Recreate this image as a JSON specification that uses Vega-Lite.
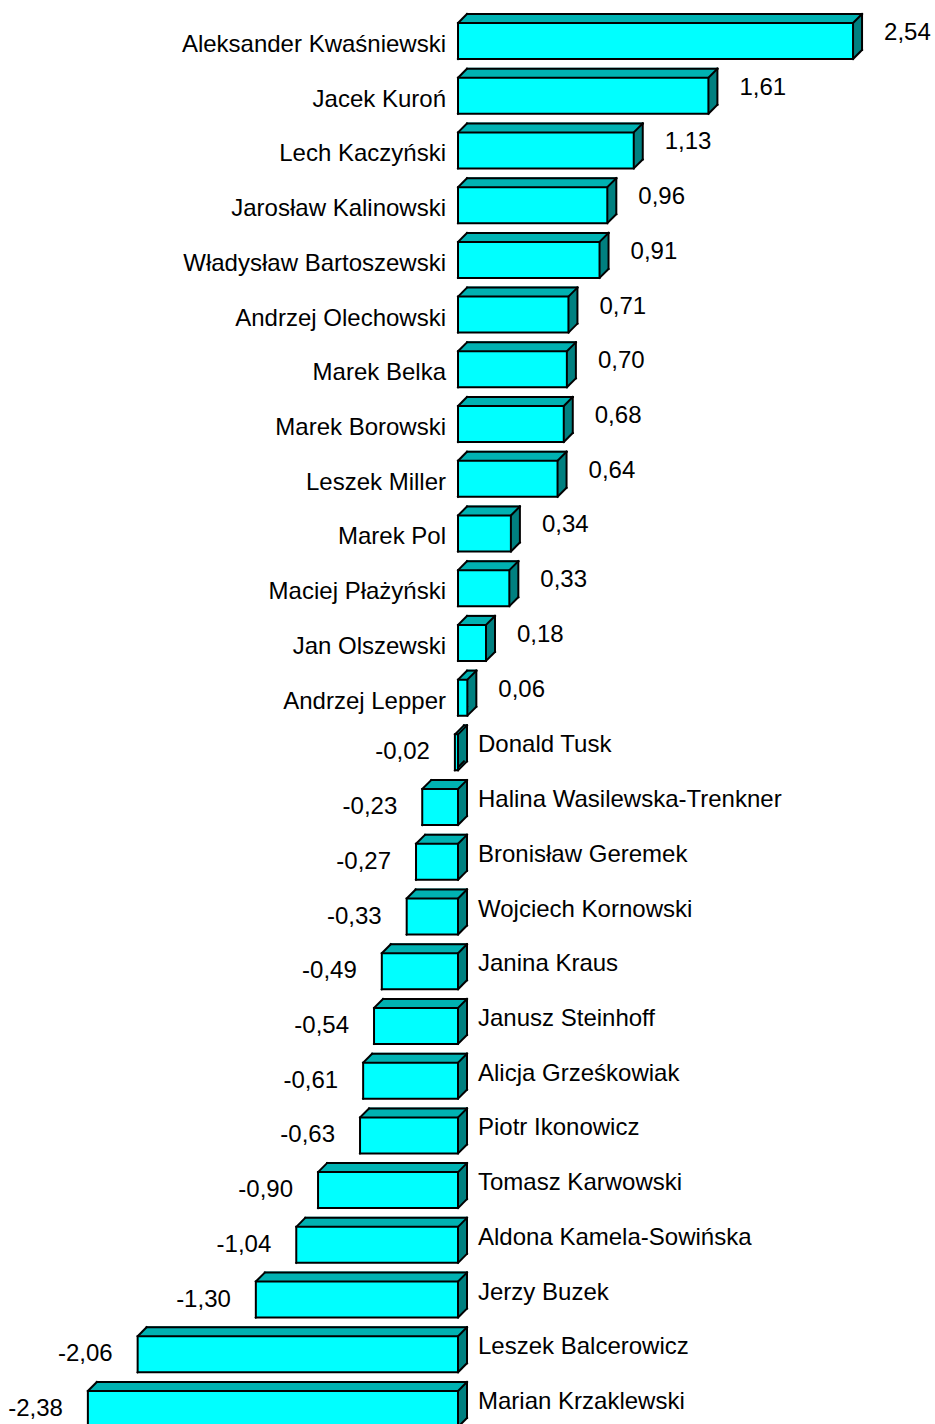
{
  "$schema": "https://vega.github.io/schema/vega-lite/v6.json",
  "width": 935,
  "height": 1424,
  "autosize": "none",
  "padding": 0,
  "background": "white",
  "config": {"view": {"stroke": null}, "text": {"font": "Liberation Sans", "fontSize": 24, "color": "#000000", "baseline": "middle"}},
  "data": {"values": [
    {"name": "Aleksander Kwaśniewski", "v": 2.54, "label": "2,54"},
    {"name": "Jacek Kuroń", "v": 1.61, "label": "1,61"},
    {"name": "Lech Kaczyński", "v": 1.13, "label": "1,13"},
    {"name": "Jarosław Kalinowski", "v": 0.96, "label": "0,96"},
    {"name": "Władysław Bartoszewski", "v": 0.91, "label": "0,91"},
    {"name": "Andrzej Olechowski", "v": 0.71, "label": "0,71"},
    {"name": "Marek Belka", "v": 0.70, "label": "0,70"},
    {"name": "Marek Borowski", "v": 0.68, "label": "0,68"},
    {"name": "Leszek Miller", "v": 0.64, "label": "0,64"},
    {"name": "Marek Pol", "v": 0.34, "label": "0,34"},
    {"name": "Maciej Płażyński", "v": 0.33, "label": "0,33"},
    {"name": "Jan Olszewski", "v": 0.18, "label": "0,18"},
    {"name": "Andrzej Lepper", "v": 0.06, "label": "0,06"},
    {"name": "Donald Tusk", "v": -0.02, "label": "-0,02"},
    {"name": "Halina Wasilewska-Trenkner", "v": -0.23, "label": "-0,23"},
    {"name": "Bronisław Geremek", "v": -0.27, "label": "-0,27"},
    {"name": "Wojciech Kornowski", "v": -0.33, "label": "-0,33"},
    {"name": "Janina Kraus", "v": -0.49, "label": "-0,49"},
    {"name": "Janusz Steinhoff", "v": -0.54, "label": "-0,54"},
    {"name": "Alicja Grześkowiak", "v": -0.61, "label": "-0,61"},
    {"name": "Piotr Ikonowicz", "v": -0.63, "label": "-0,63"},
    {"name": "Tomasz Karwowski", "v": -0.90, "label": "-0,90"},
    {"name": "Aldona Kamela-Sowińska", "v": -1.04, "label": "-1,04"},
    {"name": "Jerzy Buzek", "v": -1.30, "label": "-1,30"},
    {"name": "Leszek Balcerowicz", "v": -2.06, "label": "-2,06"},
    {"name": "Marian Krzaklewski", "v": -2.38, "label": "-2,38"}
  ]},
  "encoding": {
    "x": {"field": "v", "type": "quantitative", "scale": {"domain": [-2.945, 3.067], "nice": false, "zero": false}, "axis": null},
    "y": {"field": "name", "type": "nominal", "axis": null, "scale": {"type": "band", "range": [23, 1427], "paddingInner": 0.342, "paddingOuter": 0, "domain": ["Aleksander Kwaśniewski", "Jacek Kuroń", "Lech Kaczyński", "Jarosław Kalinowski", "Władysław Bartoszewski", "Andrzej Olechowski", "Marek Belka", "Marek Borowski", "Leszek Miller", "Marek Pol", "Maciej Płażyński", "Jan Olszewski", "Andrzej Lepper", "Donald Tusk", "Halina Wasilewska-Trenkner", "Bronisław Geremek", "Wojciech Kornowski", "Janina Kraus", "Janusz Steinhoff", "Alicja Grześkowiak", "Piotr Ikonowicz", "Tomasz Karwowski", "Aldona Kamela-Sowińska", "Jerzy Buzek", "Leszek Balcerowicz", "Marian Krzaklewski"]}}
  },
  "layer": [
    {"mark": {"type": "bar", "color": "#008080", "xOffset": 1, "x2Offset": 1, "yOffset": -1, "y2Offset": -1}, "encoding": {"x2": {"datum": 0}}},
    {"mark": {"type": "bar", "color": "#008080", "xOffset": 2, "x2Offset": 2, "yOffset": -2, "y2Offset": -2}, "encoding": {"x2": {"datum": 0}}},
    {"mark": {"type": "bar", "color": "#008080", "xOffset": 3, "x2Offset": 3, "yOffset": -3, "y2Offset": -3}, "encoding": {"x2": {"datum": 0}}},
    {"mark": {"type": "bar", "color": "#008080", "xOffset": 4, "x2Offset": 4, "yOffset": -4, "y2Offset": -4}, "encoding": {"x2": {"datum": 0}}},
    {"mark": {"type": "bar", "color": "#008080", "xOffset": 5, "x2Offset": 5, "yOffset": -5, "y2Offset": -5}, "encoding": {"x2": {"datum": 0}}},
    {"mark": {"type": "bar", "color": "#008080", "xOffset": 6, "x2Offset": 6, "yOffset": -6, "y2Offset": -6}, "encoding": {"x2": {"datum": 0}}},
    {"mark": {"type": "bar", "color": "#008080", "xOffset": 7, "x2Offset": 7, "yOffset": -7, "y2Offset": -7}, "encoding": {"x2": {"datum": 0}}},
    {"mark": {"type": "bar", "color": "#008080", "xOffset": 8, "x2Offset": 8, "yOffset": -8, "y2Offset": -8}, "encoding": {"x2": {"datum": 0}}},
    {"mark": {"type": "bar", "color": "#008080", "xOffset": 9, "x2Offset": 9, "yOffset": -9, "y2Offset": -9}, "encoding": {"x2": {"datum": 0}}},
    {"mark": {"type": "bar", "color": "#00B2B2", "height": 2, "xOffset": 1, "x2Offset": 1, "yOffset": -19}, "encoding": {"x2": {"datum": 0}}},
    {"mark": {"type": "bar", "color": "#00B2B2", "height": 2, "xOffset": 2, "x2Offset": 2, "yOffset": -20}, "encoding": {"x2": {"datum": 0}}},
    {"mark": {"type": "bar", "color": "#00B2B2", "height": 2, "xOffset": 3, "x2Offset": 3, "yOffset": -21}, "encoding": {"x2": {"datum": 0}}},
    {"mark": {"type": "bar", "color": "#00B2B2", "height": 2, "xOffset": 4, "x2Offset": 4, "yOffset": -22}, "encoding": {"x2": {"datum": 0}}},
    {"mark": {"type": "bar", "color": "#00B2B2", "height": 2, "xOffset": 5, "x2Offset": 5, "yOffset": -23}, "encoding": {"x2": {"datum": 0}}},
    {"mark": {"type": "bar", "color": "#00B2B2", "height": 2, "xOffset": 6, "x2Offset": 6, "yOffset": -24}, "encoding": {"x2": {"datum": 0}}},
    {"mark": {"type": "bar", "color": "#00B2B2", "height": 2, "xOffset": 7, "x2Offset": 7, "yOffset": -25}, "encoding": {"x2": {"datum": 0}}},
    {"mark": {"type": "bar", "color": "#00B2B2", "height": 2, "xOffset": 8, "x2Offset": 8, "yOffset": -26}, "encoding": {"x2": {"datum": 0}}},
    {"mark": {"type": "bar", "color": "#00B2B2", "height": 2, "xOffset": 9, "x2Offset": 9, "yOffset": -27}, "encoding": {"x2": {"datum": 0}}},
    {"mark": {"type": "rule", "color": "black", "strokeWidth": 2, "strokeCap": "square", "xOffset": 9, "x2Offset": 9, "yOffset": -9},
     "encoding": {"x2": {"datum": 0}, "y": {"field": "name", "type": "nominal", "bandPosition": 0}}},
    {"mark": {"type": "rule", "color": "black", "strokeWidth": 2, "strokeCap": "square", "x2Offset": 9, "y2Offset": -9},
     "encoding": {"x2": {"field": "v"}, "y": {"field": "name", "type": "nominal", "bandPosition": 0}, "y2": {"field": "name", "bandPosition": 0}}},
    {"mark": {"type": "rule", "color": "black", "strokeWidth": 2, "strokeCap": "square", "x2Offset": 9, "y2Offset": -9},
     "encoding": {"x": {"datum": 0}, "x2": {"datum": 0}, "y": {"field": "name", "type": "nominal", "bandPosition": 0}, "y2": {"field": "name", "bandPosition": 0}}},
    {"mark": {"type": "rule", "color": "black", "strokeWidth": 2, "strokeCap": "square", "x2Offset": 9, "yOffset": 36, "y2Offset": 27},
     "encoding": {"x2": {"field": "v"}, "y": {"field": "name", "type": "nominal", "bandPosition": 0}, "y2": {"field": "name", "bandPosition": 0}}},
    {"mark": {"type": "rule", "color": "black", "strokeWidth": 2, "strokeCap": "square", "x2Offset": 9, "yOffset": 36, "y2Offset": 27},
     "encoding": {"x": {"datum": 0}, "x2": {"datum": 0}, "y": {"field": "name", "type": "nominal", "bandPosition": 0}, "y2": {"field": "name", "bandPosition": 0}}},
    {"transform": [{"filter": "datum.v > 0"}],
     "mark": {"type": "rule", "color": "black", "strokeWidth": 2, "strokeCap": "square", "xOffset": 9, "yOffset": -9, "y2Offset": 27},
     "encoding": {"y": {"field": "name", "type": "nominal", "bandPosition": 0}, "y2": {"field": "name", "bandPosition": 0}}},
    {"transform": [{"filter": "datum.v < 0"}],
     "mark": {"type": "rule", "color": "black", "strokeWidth": 2, "strokeCap": "square", "xOffset": 9, "yOffset": -9, "y2Offset": 27},
     "encoding": {"x": {"datum": 0}, "y": {"field": "name", "type": "nominal", "bandPosition": 0}, "y2": {"field": "name", "bandPosition": 0}}},
    {"mark": {"type": "bar", "color": "#00FFFF", "stroke": "black", "strokeWidth": 2}, "encoding": {"x2": {"datum": 0}}},
    {"transform": [{"filter": "datum.v > 0"}],
     "mark": {"type": "text", "align": "left", "dx": 31, "dy": -8},
     "encoding": {"text": {"field": "label"}}},
    {"transform": [{"filter": "datum.v < 0"}],
     "mark": {"type": "text", "align": "right", "dx": -25, "dy": 0},
     "encoding": {"text": {"field": "label"}}},
    {"transform": [{"filter": "datum.v > 0"}],
     "mark": {"type": "text", "align": "right", "dx": -12, "dy": 4},
     "encoding": {"x": {"datum": 0}, "text": {"field": "name"}}},
    {"transform": [{"filter": "datum.v < 0"}],
     "mark": {"type": "text", "align": "left", "dx": 20, "dy": -7},
     "encoding": {"x": {"datum": 0}, "text": {"field": "name"}}}
  ]
}
